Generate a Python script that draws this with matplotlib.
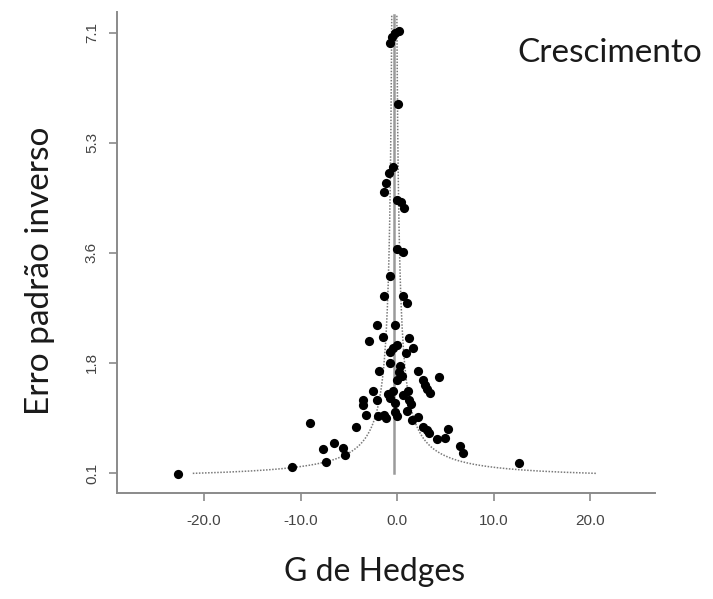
"""Funnel plot: inverse standard error against Hedges' g."""
import matplotlib
import numpy as np

matplotlib.use("Agg")
from matplotlib import pyplot as plt

# Effect sizes (Hedges' g) and inverse standard errors of each study
hedges_g = [
    -0.73, -0.52, -0.21, 0.21, 0.10, -0.41, -0.83, -1.14, -1.35, 0.00,
    0.41, 0.72, 0.00, 0.62, -0.73, -1.35, 0.62, 1.04, -2.07, -0.21,
    -2.90, -1.45, 1.24, 0.00, -0.41, 1.66, -0.73, 0.93, -0.73, -1.86,
    0.21, 2.18, 0.52, 4.35, 0.00, 2.69, 2.90, 3.11, 3.42, -2.49,
    -0.41, 1.14, 0.62, -3.52, -2.07, -0.73, -3.52, -0.21, 1.24, 1.45,
    -3.21, -1.97, -1.35, -1.14, 0.00, 1.55, 2.18, -4.25, 2.69, 3.11,
    3.32, 5.28, -6.53, 4.15, 4.97, -5.60, -5.39, 6.53, 6.84, 12.64,
    -22.69, -9.02, -7.67, -7.36, -10.88, -0.21, 1.04, -0.93, 0.31,
]
inverse_se = [
    6.94, 7.04, 7.10, 7.13, 5.97, 4.97, 4.87, 4.71, 4.57, 4.44,
    4.41, 4.32, 3.66, 3.62, 3.23, 2.92, 2.92, 2.80, 2.45, 2.45,
    2.20, 2.26, 2.25, 2.14, 2.09, 2.09, 2.03, 2.01, 1.85, 1.72,
    1.71, 1.72, 1.64, 1.63, 1.58, 1.58, 1.50, 1.44, 1.37, 1.40,
    1.40, 1.40, 1.34, 1.26, 1.26, 1.29, 1.18, 1.21, 1.26, 1.20,
    1.02, 1.01, 1.02, 0.98, 1.01, 0.94, 0.99, 0.83, 0.83, 0.78,
    0.74, 0.80, 0.58, 0.64, 0.66, 0.50, 0.39, 0.53, 0.42, 0.26,
    0.08, 0.90, 0.48, 0.27, 0.20, 1.07, 1.09, 1.36, 1.80,
]

pooled_estimate = -0.3
y_range = (0.094, 7.38)
y_ticks = [0.1, 1.85, 3.6, 5.35, 7.1]
y_tick_labels = ["0.1", "1.8", "3.6", "5.3", "7.1"]
x_ticks = [-20.0, -10.0, 0.0, 10.0, 20.0]

axis_grey = "#8a8a8a"
tick_font = ["Liberation Sans", "DejaVu Sans"]
label_font = ["Lato", "Open Sans", "DejaVu Sans"]

fig = plt.figure(figsize=(7.13, 5.99), dpi=100)
ax = fig.add_axes([0.164, 0.177, 0.755, 0.803])

# pseudo confidence region around the pooled estimate
ys = np.linspace(y_range[0], y_range[1], 400)
ax.plot(pooled_estimate - 1.96 / ys, ys, color="#7a7a7a", linestyle=(0, (1, 1)), linewidth=1.1)
ax.plot(pooled_estimate + 1.96 / ys, ys, color="#7a7a7a", linestyle=(0, (1, 1)), linewidth=1.1)
ax.plot([pooled_estimate, pooled_estimate], [0.1, y_range[1]], color="#9a9a9a", linewidth=1.8)

ax.scatter(hedges_g, inverse_se, s=44, color="black", linewidths=0, zorder=3)

ax.set_xlim(-29.0, 26.7)
ax.set_ylim(-0.218, 7.43)
ax.set_xticks(x_ticks)
ax.set_xticklabels([f"{v:.1f}" for v in x_ticks], family=tick_font, fontsize=11, color="#444444")
ax.set_yticks(y_ticks)
ax.set_yticklabels(y_tick_labels, family=tick_font, fontsize=11,
                   color="#444444", rotation=90, va="center")

for side in ("top", "right"):
    ax.spines[side].set_visible(False)
for side in ("left", "bottom"):
    ax.spines[side].set_color(axis_grey)
    ax.spines[side].set_linewidth(1.4)
ax.tick_params(axis="both", length=6, width=1.2, color=axis_grey, direction="out")
ax.tick_params(axis="x", pad=9)
ax.tick_params(axis="y", pad=7)

fig.text(0.725, 0.896, "Crescimento", family=label_font, fontsize=24, color="#1a1a1a")
fig.text(0.056, 0.548, "Erro padrão inverso", family=label_font, fontsize=24, color="#1a1a1a",
         rotation=90, ha="center", va="center")
fig.text(0.526, 0.045, "G de Hedges", family=label_font, fontsize=23, color="#1a1a1a",
         ha="center", va="center")

fig.savefig("out.png")
plt.close(fig)
